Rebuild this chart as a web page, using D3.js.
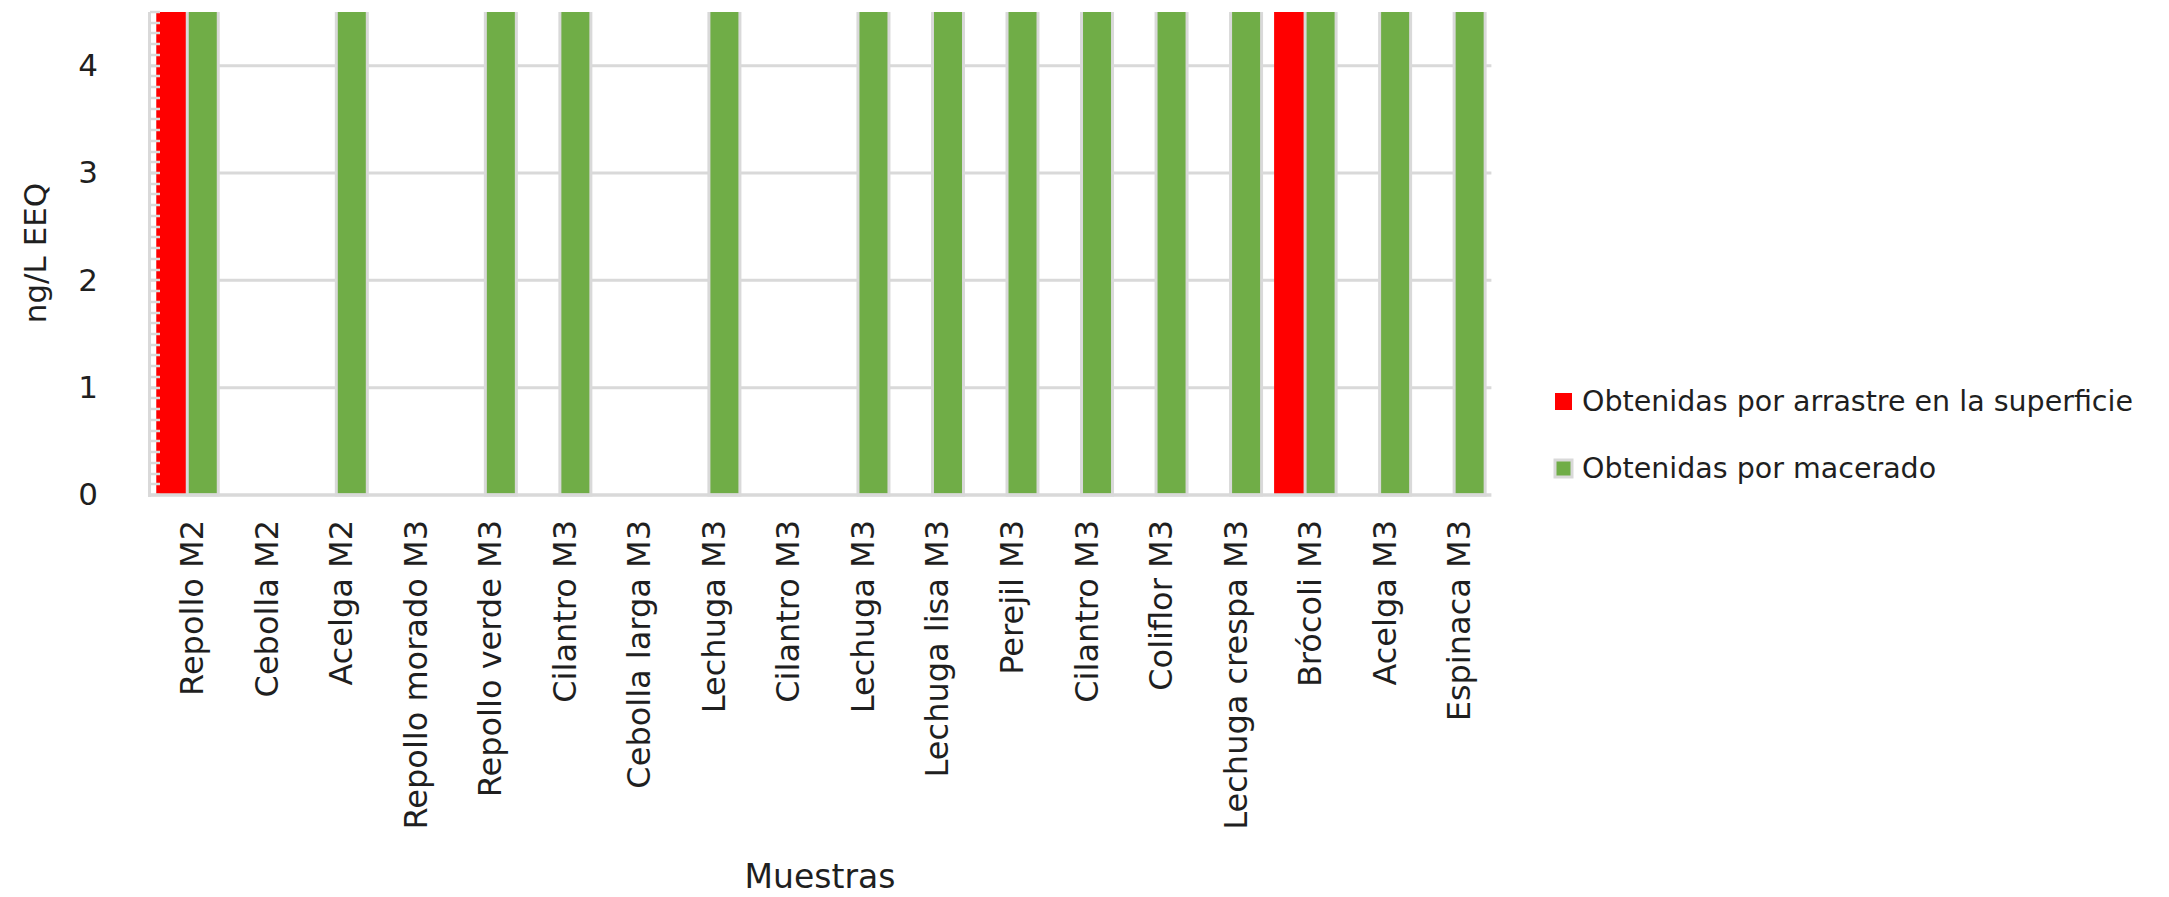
<!DOCTYPE html>
<html>
<head>
<meta charset="utf-8">
<script src="https://cdn.jsdelivr.net/npm/d3@7"></script>
<style>
  html, body { margin: 0; padding: 0; background: #fff; }
  svg { display: block; }
  text { font-family: "DejaVu Sans", sans-serif; fill: #1f1f1f; }
</style>
</head>
<body>
<svg id="chart" width="2169" height="897"></svg>
<script>
// ---------- data ----------
const categories = [
  "Repollo M2", "Cebolla M2", "Acelga M2", "Repollo morado M3", "Repollo verde M3",
  "Cilantro M3", "Cebolla larga M3", "Lechuga M3", "Cilantro M3 ", "Lechuga M3 ",
  "Lechuga lisa M3", "Perejil M3", "Cilantro M3  ", "Coliflor M3", "Lechuga crespa M3",
  "Brócoli M3", "Acelga M3", "Espinaca M3"
];
const seriesNames = ["Obtenidas por arrastre en la superficie", "Obtenidas por macerado"];
// values run past the top of the axis (clipped at 4.5 in the picture)
const arrastre = [5, 0, 0, 0, 0, 0, 0, 0, 0, 0, 0, 0, 0, 0, 0, 5, 0, 0];
const macerado = [5, 0, 5, 0, 5, 5, 0, 5, 0, 5, 5, 5, 5, 5, 5, 5, 5, 5];
const yTicks = [0, 1, 2, 3, 4];
const yMax = 4.5;
const colors = ["#FF0000", "#70AD47"];
const yTitle = "ng/L EEQ";
const xTitle = "Muestras";

// ---------- layout ----------
const plot = { left: 150, right: 1491.4, top: 12, bottom: 495 };
const grid = "#D9D9D9";

const svg = d3.select("#chart");

const x0 = d3.scaleBand().domain(categories).range([plot.left, plot.right])
  .paddingInner(0.168).paddingOuter(0.084);
const x1 = d3.scaleBand().domain(seriesNames).range([0, x0.bandwidth()]);
const y = d3.scaleLinear().domain([0, yMax]).range([plot.bottom, plot.top]);
const color = d3.scaleOrdinal().domain(seriesNames).range(colors);

// clip
svg.append("defs").append("clipPath").attr("id", "plotclip")
  .append("rect").attr("x", plot.left - 5).attr("y", plot.top)
  .attr("width", plot.right - plot.left + 10).attr("height", plot.bottom - plot.top + 5);

// gridlines
svg.append("g").selectAll("line").data(yTicks.filter(d => d > 0)).join("line")
  .attr("x1", plot.left).attr("x2", plot.right)
  .attr("y1", d => y(d)).attr("y2", d => y(d))
  .attr("stroke", grid).attr("stroke-width", 3);

// bars
const rows = categories.map((c, i) => ({ cat: c, vals: [arrastre[i], macerado[i]] }));
const gBars = svg.append("g").attr("clip-path", "url(#plotclip)");
gBars.selectAll("g").data(rows).join("g")
  .attr("transform", d => `translate(${x0(d.cat)},0)`)
  .selectAll("rect")
  .data(d => d.vals.map((v, j) => ({ s: seriesNames[j], v })).filter(e => e.v > 0))
  .join("rect")
  .attr("x", d => x1(d.s))
  .attr("width", x1.bandwidth())
  .attr("y", d => y(d.v))
  .attr("height", d => y(0) - y(d.v))
  .attr("fill", d => color(d.s))
  .attr("stroke", d => d.s === seriesNames[1] ? grid : "none")
  .attr("stroke-width", 3);

// axes lines
svg.append("line").attr("x1", plot.left - 0.5).attr("x2", plot.left - 0.5)
  .attr("y1", plot.top).attr("y2", plot.bottom + 2)
  .attr("stroke", grid).attr("stroke-width", 3);
svg.append("line").attr("x1", plot.left - 2).attr("x2", plot.right)
  .attr("y1", plot.bottom).attr("y2", plot.bottom)
  .attr("stroke", grid).attr("stroke-width", 3.5);

// minor ticks (inside) every 0.1
const minor = d3.range(0, yMax + 0.001, 0.1);
svg.append("g").selectAll("line").data(minor).join("line")
  .attr("x1", plot.left).attr("x2", plot.left + 10)
  .attr("y1", d => Math.round(y(d))).attr("y2", d => Math.round(y(d)))
  .attr("stroke", grid).attr("stroke-width", 2.5);

// y axis labels via d3 axis
const yAxis = d3.axisLeft(y).tickValues(yTicks).tickFormat(d3.format("d")).tickSize(0).tickPadding(0);
const gy = svg.append("g").attr("transform", "translate(98,0)").call(yAxis);
gy.select(".domain").remove();
gy.selectAll("text").attr("font-size", 31).attr("fill", "#1f1f1f")
  .style("font-family", '"DejaVu Sans", sans-serif');

// x axis labels via d3 axis (rotated)
const xAxis = d3.axisBottom(x0).tickSize(0).tickFormat(d => d.trim());
const gx = svg.append("g").attr("transform", "translate(0,520)").call(xAxis);
gx.select(".domain").remove();
gx.selectAll("text")
  .attr("font-size", 32).attr("fill", "#1f1f1f")
  .style("font-family", '"DejaVu Sans", sans-serif')
  .attr("text-anchor", "end")
  .attr("dy", 0).attr("y", 0)
  .attr("transform", "translate(16,0) rotate(-90)");

// axis titles
svg.append("text").attr("transform", "translate(46,253) rotate(-90)")
  .attr("text-anchor", "middle").attr("font-size", 31).text(yTitle);
svg.append("text").attr("x", 820).attr("y", 888)
  .attr("text-anchor", "middle").attr("font-size", 33).text(xTitle);

// legend
const legend = svg.append("g");
const lg = legend.selectAll("g").data(seriesNames).join("g")
  .attr("transform", (d, i) => `translate(1555,${401.5 + i * 67})`);
lg.append("rect").attr("x", 0).attr("y", -8.5).attr("width", 17).attr("height", 17)
  .attr("fill", d => color(d))
  .attr("stroke", (d, i) => i === 1 ? grid : "none").attr("stroke-width", 3);
lg.append("text").attr("x", 27).attr("y", 9)
  .attr("font-size", 28.5).text(d => d);
</script>
</body>
</html>
